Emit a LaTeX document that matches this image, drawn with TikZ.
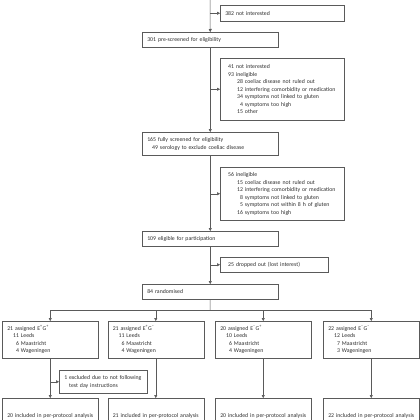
\documentclass[tikz,border=0pt]{standalone}
\usepackage{fontspec}
\setmainfont{Carlito}
\usetikzlibrary{arrows.meta}
\definecolor{lg}{HTML}{5A5A5A}
\definecolor{tx}{HTML}{2E2E2E}
\newcommand\fs{\fontsize{5.8}{7.5}\selectfont}
\newcommand\fsub[3][12pt]{\hspace*{#1}\makebox[5.8pt][r]{#2} #3}
\newcommand\pl{\textsuperscript{+}}
\newcommand\mi{\textsuperscript{–}}
\begin{document}
\begin{tikzpicture}[x=1pt,y=-1pt,
  box/.style={draw=lg, line width=0.5pt, anchor=north west, inner xsep=5pt, inner ysep=0pt, align=left, font=\fs, text=tx},
  arr/.style={draw=lg, line width=0.5pt, -{Triangle[length=3pt,width=3pt]}},
  ln/.style={draw=lg, line width=0.5pt}]
\useasboundingbox (0,0) rectangle (420,420);
\clip (0,0) rectangle (420,420);

\coordinate (top) at (210,-10);
\node[box, text width=114pt, minimum height=16pt] (b382) at (220,5) {382 not interested};
\node[box, text width=126pt, minimum height=15pt] (b301) at (142,32) {301 pre-screened for eligibility};
\node[box, text width=114pt, minimum height=62pt] (b41) at (220,58) {\hphantom{0}41 not interested\\
\hphantom{0}93 ineligible\\
\fsub{28}{coeliac disease not ruled out}\\
\fsub{12}{interfering comorbidity or medication}\\
\fsub{34}{symptoms not linked to gluten}\\
\fsub{4}{symptoms too high}\\
\fsub{15}{other}};
\node[box, text width=126pt, minimum height=23pt] (b165) at (142,132) {165 fully screened for eligibility\\
\fsub[5pt]{49}{serology to exclude coeliac disease}};
\node[box, text width=114pt, minimum height=53pt] (b56) at (220,167) {\hphantom{0}56 ineligible\\
\fsub{15}{coeliac disease not ruled out}\\
\fsub{12}{interfering comorbidity or medication}\\
\fsub{8}{symptoms not linked to gluten}\\
\fsub{5}{symptoms not within 8 h of gluten}\\
\fsub{16}{symptoms too high}};
\node[box, text width=126pt, minimum height=15pt] (b109) at (142,231) {109 eligible for participation};
\node[box, text width=98pt, minimum height=15pt] (b25) at (220,257) {\hphantom{0}25 dropped out (lost interest)};
\node[box, text width=126pt, minimum height=15pt] (b84) at (142,284) {84 randomised};

\node[box, text width=86pt, minimum height=37pt] (g1) at (2,321) {21 assigned E\pl G\pl\\
\fsub[6pt]{11}{Leeds}\\ \fsub[6pt]{6}{Maastricht}\\ \fsub[6pt]{4}{Wageningen}};
\node[box, text width=86pt, minimum height=37pt] (g2) at (107.5,321) {21 assigned E\pl G\mi\\
\fsub[6pt]{11}{Leeds}\\ \fsub[6pt]{6}{Maastricht}\\ \fsub[6pt]{4}{Wageningen}};
\node[box, text width=86pt, minimum height=37pt] (g3) at (215,321) {20 assigned E\mi G\pl\\
\fsub[6pt]{10}{Leeds}\\ \fsub[6pt]{6}{Maastricht}\\ \fsub[6pt]{4}{Wageningen}};
\node[box, text width=86pt, minimum height=37pt] (g4) at (323,321) {22 assigned E\mi G\mi\\
\fsub[6pt]{12}{Leeds}\\ \fsub[6pt]{7}{Maastricht}\\ \fsub[6pt]{3}{Wageningen}};

\node[box, text width=78pt, minimum height=23pt] (ex) at (59,370) {1 excluded due to not following\\
\hphantom{1 }test day instructions};

\node[box, text width=86pt, minimum height=40pt] (f1) at (2,398) {\rule{0pt}{6pt}20 included in per-protocol analysis\\ \fsub[6pt]{11}{Leeds}\\[20pt]};
\node[box, text width=86pt, minimum height=40pt] (f2) at (107.5,398) {\rule{0pt}{6pt}21 included in per-protocol analysis\\ \fsub[6pt]{11}{Leeds}\\[20pt]};
\node[box, text width=86pt, minimum height=40pt] (f3) at (215,398) {\rule{0pt}{6pt}20 included in per-protocol analysis\\ \fsub[6pt]{10}{Leeds}\\[20pt]};
\node[box, text width=86pt, minimum height=40pt] (f4) at (323,398) {\rule{0pt}{6pt}22 included in per-protocol analysis\\ \fsub[6pt]{12}{Leeds}\\[20pt]};

\draw[arr] (top) -- (b301.north);
\draw[arr] (b301.north |- b382.west) -- (b382.west);
\draw[arr] (b301.south) -- (b165.north);
\draw[arr] (b301.south |- b41.west) -- (b41.west);
\draw[arr] (b165.south) -- (b109.north);
\draw[arr] (b165.south |- b56.west) -- (b56.west);
\draw[arr] (b109.south) -- (b84.north);
\draw[arr] (b109.south |- b25.west) -- (b25.west);

\coordinate (split) at (210,310);
\draw[ln] (b84.south) -- (split);
\draw[ln] (split -| g1.north) -- (split -| g4.north);
\foreach \g in {g1,g2,g3,g4} {\draw[arr] (split -| \g.north) -- (\g.north);}
\draw[arr] (g1.south) -- (f1.north);
\draw[arr] (g2.south) -- (f2.north);
\draw[arr] (g3.south) -- (f3.north);
\draw[arr] (g4.south) -- (f4.north);
\draw[arr] (g1.south |- ex.west) -- (ex.west);
\end{tikzpicture}
\end{document}
